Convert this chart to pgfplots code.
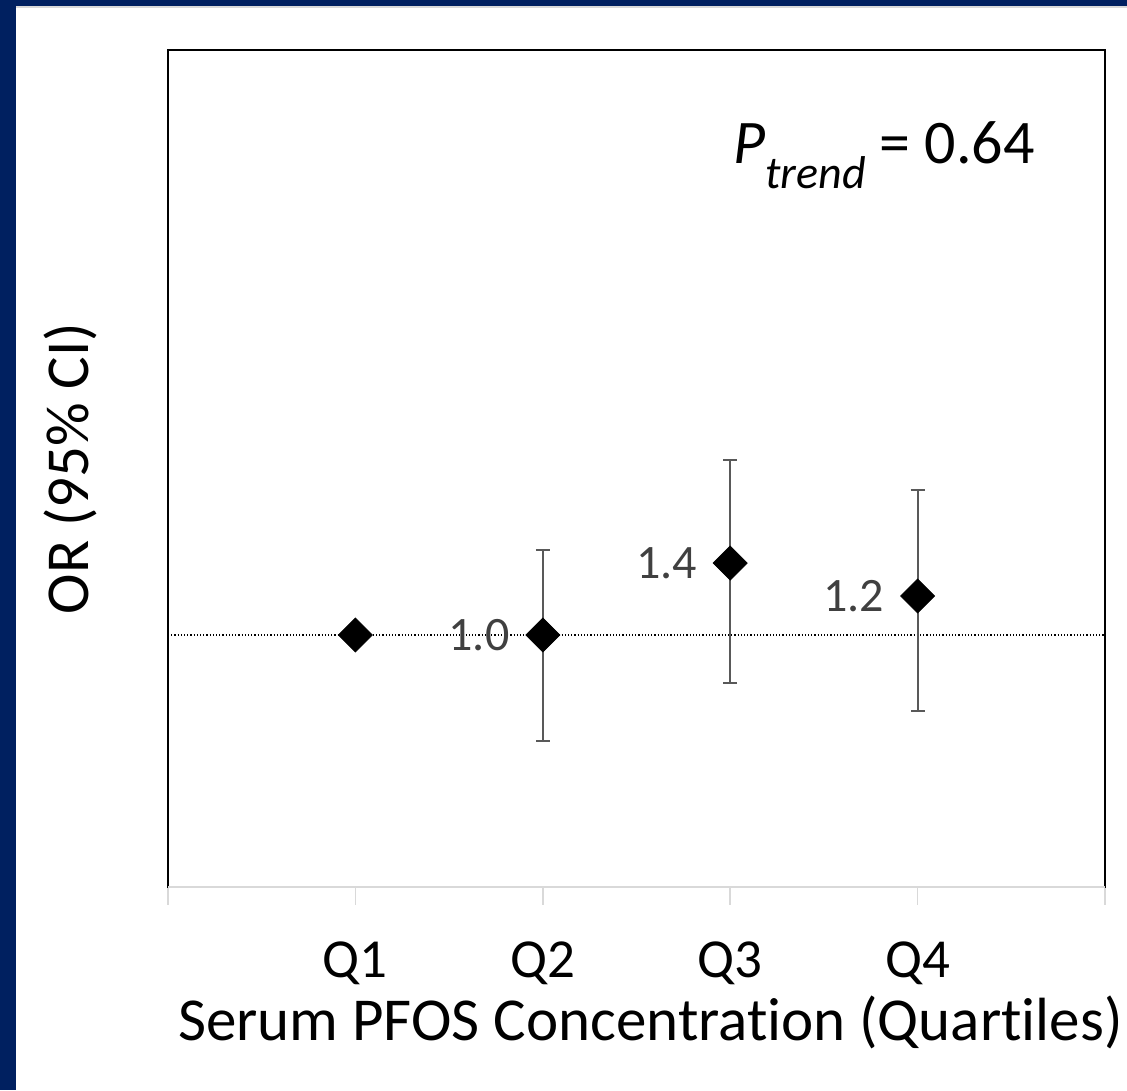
\documentclass[border=0pt]{standalone}
\usepackage{pgfplots}
\pgfplotsset{compat=1.18}
\usepackage{fontspec}
\setmainfont{Carlito}[Ligatures=NoCommon]
\definecolor{navy}{HTML}{002060}
\definecolor{bargrey}{HTML}{595959}
\definecolor{labgrey}{HTML}{404040}
\definecolor{axgrey}{HTML}{D9D9D9}

% quartile, OR, upper CI - OR, OR - lower CI
\pgfplotstableread{
x y ep em lab
2 1.0 0.49 0.39 1.0
3 1.4 0.87 0.60 1.4
4 1.2 0.77 0.50 1.2
}\ordata

\begin{document}
\begin{tikzpicture}
\path[use as bounding box] (0,0) rectangle (563.5pt,545pt);
\begin{axis}[
    at={(84pt,101.5pt)}, anchor=south west,
    width=468.5pt, height=418.5pt, scale only axis,
    xmin=0, xmax=5,
    ymode=log, ymin=0.308, ymax=15.4,
    ymajorticks=false, yminorticks=false,
    xtick={0,1,2,3,4,5},
    xticklabels={,Q1,Q2,Q3,Q4,},
    xtick pos=bottom, xtick align=outside,
    major tick length=9pt,
    x tick style={axgrey, line width=0.8pt},
    axis line style={black, line width=0.75pt},
    ticklabel style={font=\fontsize{27.5}{27.5}\selectfont},
    xticklabel style={yshift=-15pt},
    xlabel={Serum PFOS Concentration (Quartiles)},
    ylabel={OR (95\% CI)},
    label style={font=\fontsize{30.5}{30.5}\selectfont},
    xlabel style={at={([xshift=7pt,yshift=-76.5pt]axis description cs:0.5,0)}, anchor=base},
    ylabel style={at={([xshift=-40pt]axis description cs:0,0.5)}, anchor=base},
    clip=false,
]
\draw[axgrey, line width=0.9pt] (rel axis cs:0,0) -- (rel axis cs:1,0);
\addplot[black, densely dotted, line width=0.6pt, forget plot] coordinates {(0,1) (5,1)};
\addplot[only marks, mark=square*, mark size=6pt, mark options={rotate=45, fill=black, draw=black}]
    coordinates {(1,1.0)};
\addplot[only marks, mark=square*, mark size=6pt, mark options={rotate=45, fill=black, draw=black},
    error bars/.cd, y dir=both, y explicit,
    error bar style={bargrey, line width=1pt},
    error mark options={rotate=90, bargrey, mark size=3.5pt, line width=1pt}]
    table[x=x, y=y, y error plus=ep, y error minus=em] {\ordata};
\addplot[only marks, mark=none, nodes near coords, point meta=explicit symbolic,
    nodes near coords style={anchor=east, inner sep=0pt, xshift=-16.5pt, text=labgrey,
      font=\fontsize{24}{24}\selectfont}]
    table[x=x, y=y, meta=lab] {\ordata};
\node[anchor=base east, inner sep=0pt, font=\fontsize{31}{31}\selectfont]
    at ([xshift=-35pt,yshift=-57pt]rel axis cs:1,1)
    {\textit{P}\raisebox{-0.4em}{\fontsize{23}{23}\selectfont\textit{trend}} = 0.64};
\end{axis}
\fill[navy] (0,0) rectangle (8pt,545pt);
\fill[navy] (0,542pt) rectangle (563.5pt,545pt);
\draw[axgrey, line width=0.8pt] (8pt,541.6pt) -- (563.5pt,541.6pt);
\end{tikzpicture}
\end{document}
